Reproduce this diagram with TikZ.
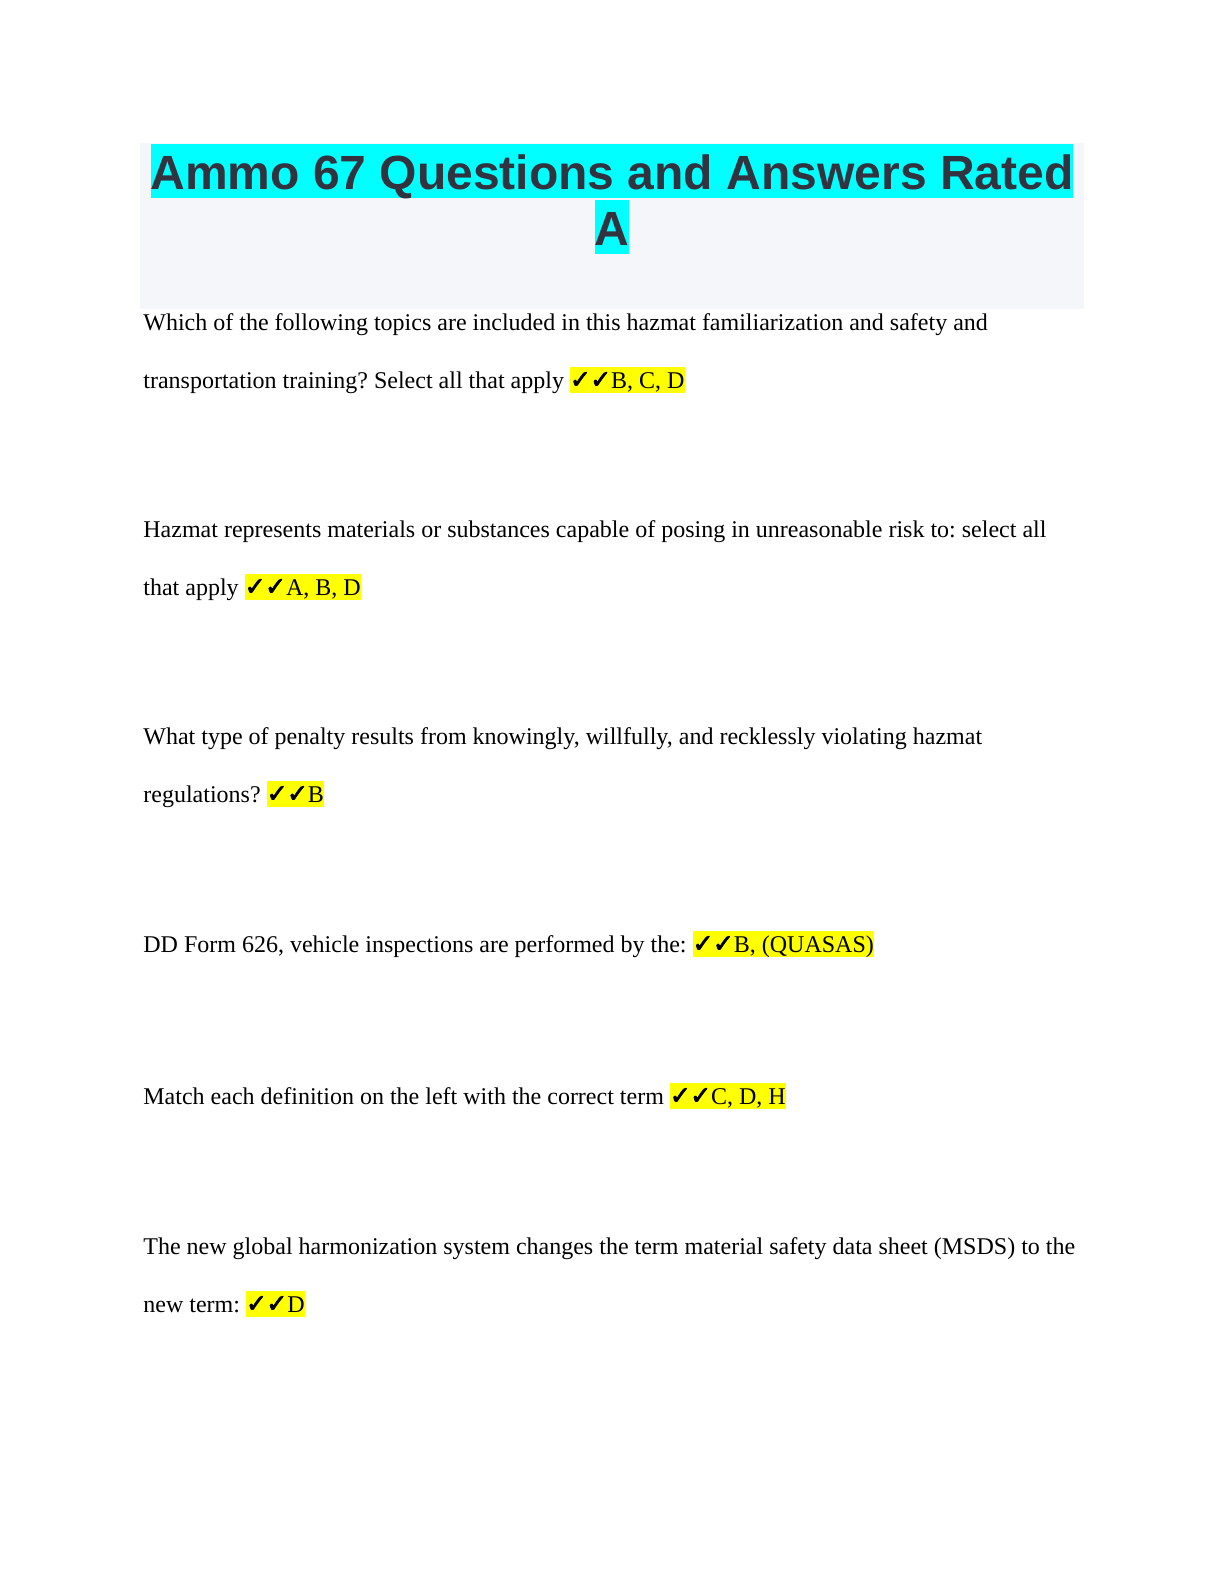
\documentclass[tikz,border=0pt]{standalone}
\usepackage{fontspec}
\setmainfont{Liberation Serif}
\newfontfamily\titlefont{Liberation Sans}
\newfontfamily\symfont[FakeBold=3]{DejaVu Sans}
\definecolor{titlebg}{HTML}{F5F6FA}
\definecolor{titlecyan}{HTML}{00FFFF}
\definecolor{titlegray}{HTML}{32333F}
\definecolor{hlyellow}{HTML}{FFFF00}
\newcommand\dblcheck{{\symfont\fontsize{12.5pt}{14pt}\selectfont ✓\kern-0.3pt✓}}
\newcommand\hlans[1]{{\setlength{\fboxsep}{0pt}\colorbox{hlyellow}{\rule[-2.6pt]{0pt}{13.3pt}#1}}}
\frenchspacing
\tikzset{
  titleline/.style={anchor=base, fill=titlecyan, inner xsep=0pt, inner ysep=0pt,
    text height=22.5pt, text depth=4.5pt, text=titlegray,
    font=\titlefont\bfseries\fontsize{24pt}{28pt}\selectfont},
  bodyline/.style={anchor=base west, inner sep=0pt, text=black,
    font=\frenchspacing\fontsize{12pt}{14pt}\selectfont}
}
\begin{document}
\begin{tikzpicture}[x=0.5pt,y=-0.5pt]
\useasboundingbox[fill=white] (0,0) rectangle (1224,1584);
\fill[titlebg] (140,143) rectangle (1084,309);
\node[titleline] (t1) at (612,189) {Ammo 67 Questions and Answers Rated};
\node[titleline] (t2) at (612,245) {A};
\node[bodyline] (l1) at (143,330) {Which of the following topics are included in this hazmat familiarization and safety and};
\node[bodyline] (l2) at (143,388) {transportation training? Select all that apply \hlans{\dblcheck B, C, D}};
\node[bodyline] (l3) at (143,537) {Hazmat represents materials or substances capable of posing in unreasonable risk to: select all};
\node[bodyline] (l4) at (143,595) {that apply \hlans{\dblcheck A, B, D}};
\node[bodyline] (l5) at (143,744) {What type of penalty results from knowingly, willfully, and recklessly violating hazmat};
\node[bodyline] (l6) at (143,802) {regulations? \hlans{\dblcheck B}};
\node[bodyline] (l7) at (143,952) {DD Form 626, vehicle inspections are performed by the: \hlans{\dblcheck B, (QUASAS)}};
\node[bodyline] (l8) at (143,1104) {Match each definition on the left with the correct term \hlans{\dblcheck C, D, H}};
\node[bodyline] (l9) at (143,1254) {The new global harmonization system changes the term material safety data sheet (MSDS) to the};
\node[bodyline] (l10) at (143,1312) {new term: \hlans{\dblcheck D}};
\end{tikzpicture}
\end{document}
